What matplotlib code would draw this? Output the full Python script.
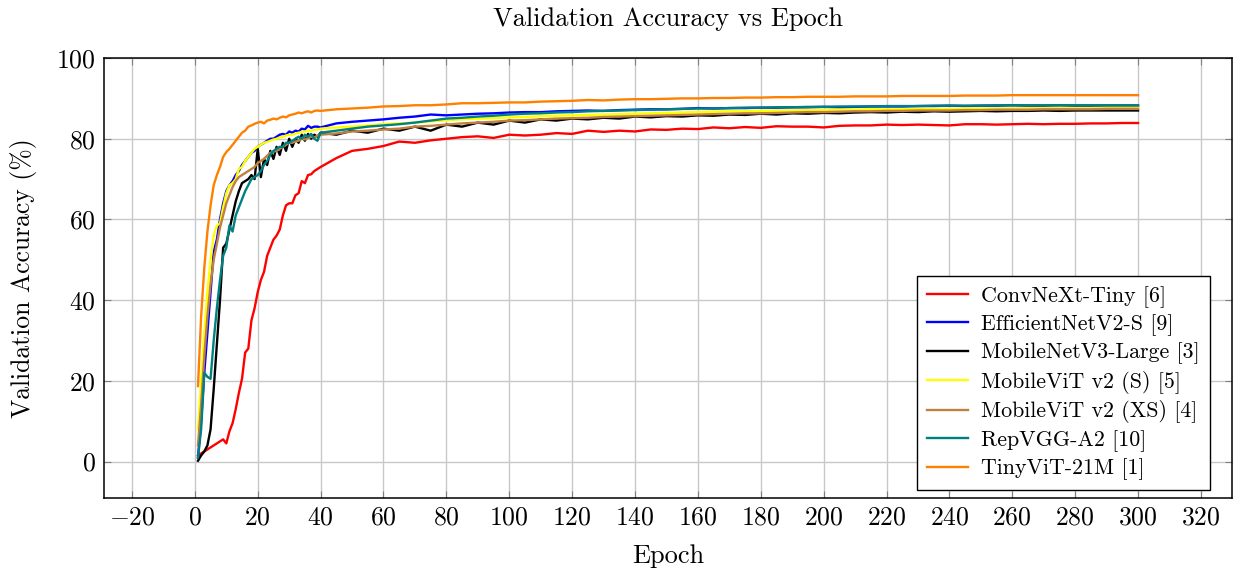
import matplotlib
matplotlib.use("Agg")
import matplotlib.pyplot as plt

plt.rcParams["font.family"] = ["cmr10", "DejaVu Serif"]
plt.rcParams["mathtext.fontset"] = "cm"
plt.rcParams["axes.formatter.use_mathtext"] = True

# epochs: every epoch for the first 40, then every 5th
epochs = list(range(1, 41)) + list(range(45, 301, 5))

convnext_tiny = [
	1.5, 2.0, 2.5, 3.0, 3.5, 4.0, 4.5, 5.0, 5.5, 4.5, 7.5, 9.5, 13.0, 17.0, 20.5, 27.0, 28.0, 35.0, 38.0, 42.0,
	45.0, 47.0, 51.0, 53.0, 55.0, 56.0, 57.5, 61.0, 63.5, 64.0, 64.0, 66.0, 66.5, 69.5, 69.0, 71.0, 71.2, 72.0, 72.5, 73.0,
	75.2, 77.0, 77.5, 78.2, 79.3, 79.0, 79.6, 80.0, 80.4, 80.6, 80.2, 81.0, 80.8, 81.0, 81.4, 81.2, 82.0, 81.7, 82.0, 81.8,
	82.3, 82.2, 82.5, 82.4, 82.8, 82.6, 82.9, 82.7, 83.1, 83.0, 83.0, 82.8, 83.2, 83.3, 83.3, 83.5, 83.4, 83.5, 83.4, 83.3,
	83.6, 83.6, 83.5, 83.6, 83.7, 83.6, 83.7, 83.7, 83.8, 83.8, 83.9, 83.9,
]
efficientnetv2_s = [
	1.0, 10.0, 22.0, 32.0, 42.0, 52.0, 55.0, 60.0, 64.0, 67.0, 68.5, 69.5, 71.0, 72.0, 73.5, 74.5, 75.5, 76.5, 77.0, 78.0,
	78.5, 79.0, 79.5, 80.0, 80.0, 80.5, 81.0, 81.2, 81.0, 81.8, 81.5, 82.0, 81.8, 82.5, 82.3, 83.2, 82.7, 83.0, 83.0, 82.8,
	83.8, 84.2, 84.5, 84.8, 85.2, 85.5, 86.0, 85.8, 86.0, 86.2, 86.3, 86.5, 86.6, 86.6, 86.8, 86.9, 87.0, 86.9, 87.1, 87.2,
	87.3, 87.3, 87.4, 87.6, 87.5, 87.6, 87.6, 87.7, 87.7, 87.8, 87.8, 87.9, 87.8, 87.9, 88.0, 88.0, 88.0, 88.1, 88.1, 88.2,
	88.1, 88.2, 88.2, 88.3, 88.2, 88.2, 88.3, 88.2, 88.2, 88.2, 88.2, 88.2,
]
mobilenetv3_large = [
	0.2, 1.5, 2.5, 4.0, 8.0, 18.0, 29.0, 40.0, 53.0, 54.0, 57.5, 61.0, 64.5, 67.0, 69.0, 69.5, 70.0, 71.0, 70.0, 77.5,
	70.5, 75.0, 73.5, 77.0, 75.0, 78.0, 76.0, 79.0, 77.0, 80.0, 78.0, 80.0, 79.0, 81.0, 79.5, 81.2, 80.0, 81.0, 80.5, 81.5,
	81.0, 82.0, 81.5, 82.5, 82.0, 83.0, 82.0, 83.5, 83.0, 84.0, 83.5, 84.5, 84.0, 84.8, 84.5, 85.0, 84.8, 85.2, 85.0, 85.5,
	85.3, 85.6, 85.5, 85.8, 85.7, 86.0, 85.9, 86.2, 86.0, 86.3, 86.2, 86.4, 86.3, 86.5, 86.6, 86.5, 86.7, 86.6, 86.8, 86.7,
	86.8, 86.9, 86.8, 86.9, 86.9, 87.0, 86.9, 87.0, 87.0, 87.0, 87.0, 87.0,
]
mobilevit_v2_s = [
	8.0, 20.0, 32.0, 42.0, 50.0, 56.0, 58.5, 59.0, 63.0, 66.5, 68.5, 69.0, 70.0, 72.5, 73.0, 74.5, 75.5, 76.5, 77.5, 78.0,
	78.5, 79.0, 79.2, 79.5, 79.8, 80.0, 80.3, 80.5, 80.8, 81.0, 81.0, 81.3, 81.5, 81.7, 81.8, 82.0, 82.0, 82.2, 82.3, 82.5,
	82.8, 83.0, 83.3, 83.6, 83.8, 84.0, 84.3, 84.6, 84.8, 85.0, 85.1, 85.3, 85.4, 85.6, 85.7, 85.8, 85.9, 86.0, 86.1, 86.2,
	86.3, 86.4, 86.5, 86.6, 86.7, 86.8, 86.8, 86.9, 87.0, 87.0, 87.1, 87.1, 87.2, 87.2, 87.3, 87.3, 87.3, 87.4, 87.4, 87.4,
	87.5, 87.5, 87.5, 87.5, 87.6, 87.6, 87.6, 87.6, 87.6, 87.7, 87.7, 87.7,
]
mobilevit_v2_xs = [
	4.0, 14.0, 26.0, 36.0, 44.0, 50.0, 54.0, 58.0, 61.0, 64.0, 66.0, 68.0, 69.5, 70.5, 71.0, 71.5, 72.0, 72.5, 73.0, 74.0,
	74.5, 75.0, 75.8, 76.5, 76.8, 77.0, 77.5, 78.0, 78.5, 79.0, 79.0, 79.3, 79.5, 80.0, 79.8, 80.2, 80.5, 80.3, 80.8, 81.0,
	81.3, 81.8, 82.0, 82.3, 82.5, 83.0, 83.2, 83.5, 83.8, 84.0, 84.2, 84.5, 84.6, 84.8, 85.0, 85.1, 85.2, 85.4, 85.5, 85.6,
	85.7, 85.8, 85.9, 86.0, 86.1, 86.2, 86.3, 86.3, 86.4, 86.5, 86.6, 86.6, 86.7, 86.8, 86.8, 86.9, 86.9, 87.0, 87.0, 87.0,
	87.1, 87.1, 87.2, 87.2, 87.2, 87.3, 87.3, 87.3, 87.3, 87.4, 87.4, 87.4,
]
repvgg_a2 = [
	1.0, 8.0, 22.0, 21.0, 20.5, 30.0, 38.0, 45.0, 51.0, 53.0, 58.5, 57.0, 61.0, 63.0, 65.0, 67.0, 68.5, 70.0, 70.5, 71.0,
	72.0, 73.5, 74.5, 76.0, 77.0, 77.5, 78.0, 78.0, 79.0, 79.0, 79.5, 80.0, 80.5, 80.0, 81.0, 80.5, 81.2, 80.0, 79.5, 81.5,
	82.0, 82.5, 83.0, 83.3, 83.6, 84.0, 84.5, 85.0, 85.2, 85.5, 85.7, 86.0, 86.2, 86.3, 86.5, 86.6, 86.8, 86.9, 87.0, 87.1,
	87.2, 87.3, 87.4, 87.5, 87.5, 87.6, 87.7, 87.7, 87.8, 87.8, 87.9, 87.9, 88.0, 88.0, 88.0, 88.1, 88.1, 88.1, 88.2, 88.2,
	88.2, 88.2, 88.3, 88.3, 88.3, 88.3, 88.3, 88.3, 88.3, 88.3, 88.3, 88.3,
]
tinyvit_21m = [
	18.7, 36.0, 48.0, 57.0, 63.5, 68.5, 71.0, 73.0, 75.5, 76.7, 77.5, 78.5, 79.5, 80.5, 81.5, 82.0, 83.0, 83.3, 83.7, 84.0,
	84.2, 83.8, 84.5, 84.7, 85.0, 84.8, 85.2, 85.5, 85.3, 85.8, 86.0, 86.2, 86.5, 86.3, 86.6, 86.8, 86.5, 86.9, 87.0, 86.9,
	87.3, 87.5, 87.7, 88.0, 88.1, 88.3, 88.3, 88.5, 88.8, 88.8, 88.9, 89.0, 89.0, 89.2, 89.3, 89.4, 89.6, 89.5, 89.7, 89.8,
	89.8, 89.9, 90.0, 90.0, 90.1, 90.1, 90.2, 90.2, 90.3, 90.3, 90.4, 90.4, 90.4, 90.5, 90.5, 90.5, 90.6, 90.6, 90.6, 90.6,
	90.7, 90.7, 90.7, 90.8, 90.8, 90.8, 90.8, 90.8, 90.8, 90.8, 90.8, 90.8,
]

series = [
	("ConvNeXt-Tiny [6]", convnext_tiny, "#ff0000"),
	("EfficientNetV2-S [9]", efficientnetv2_s, "#0000ff"),
	("MobileNetV3-Large [3]", mobilenetv3_large, "#000000"),
	("MobileViT v2 (S) [5]", mobilevit_v2_s, "#ffff00"),
	("MobileViT v2 (XS) [4]", mobilevit_v2_xs, "#bf8040"),
	("RepVGG-A2 [10]", repvgg_a2, "#008080"),
	("TinyViT-21M [1]", tinyvit_21m, "#ff8000"),
]

fig = plt.figure(figsize=(12.35, 5.69), dpi=100)
ax = fig.add_axes([0.0842, 0.125, 0.9134, 0.773])

for label, values, color in series:
	ax.plot(epochs, values, color=color, linewidth=1.7, label=label)

ax.set_xlim(-28.9, 329.9)
ax.set_ylim(-9, 100)
ax.set_xticks(range(-20, 321, 20))
ax.set_yticks(range(0, 101, 20))
ax.grid(True, color="#c8c8c8", linewidth=1.0)
ax.set_axisbelow(True)
ax.tick_params(direction="in", top=True, right=True, length=5, width=0.8, color="#808080", labelsize=18.5)
ax.tick_params(axis="y", pad=6)
ax.tick_params(axis="x", pad=6)
for sp in ax.spines.values():
	sp.set_linewidth(1.1)

ax.set_title("Validation Accuracy vs Epoch", fontsize=19, pad=23)
ax.set_xlabel("Epoch", fontsize=19, labelpad=10)
ax.set_ylabel("Validation Accuracy (%)", fontsize=18.5, labelpad=14)

leg = ax.legend(loc="lower right", bbox_to_anchor=(0.9805, 0.018), borderaxespad=0,
	fontsize=15.8, fancybox=False, edgecolor="black", framealpha=1.0,
	handlelength=1.9, handletextpad=0.6, labelspacing=0.3, borderpad=0.45)
leg.get_frame().set_linewidth(1.0)

fig.savefig("out.png", dpi=100)
